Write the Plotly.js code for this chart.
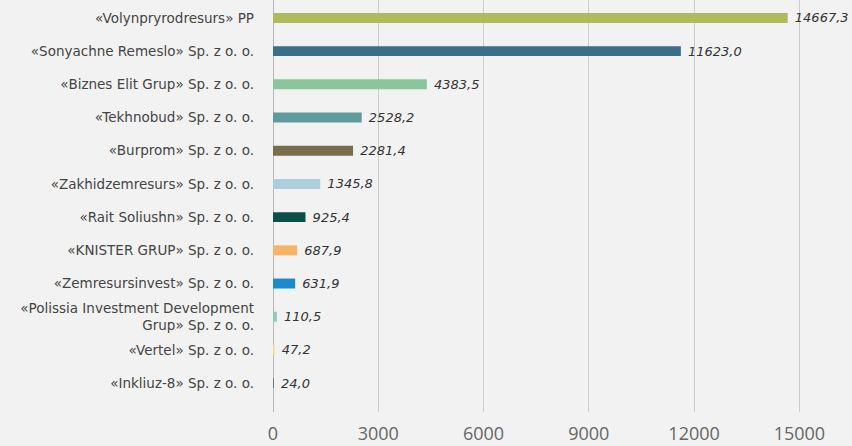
<!DOCTYPE html>
<html><head><meta charset="utf-8">
<script src="https://cdn.plot.ly/plotly-3.0.1.min.js"></script>
<style>html,body{margin:0;padding:0;background:#f2f2f2;}#chart{width:852px;height:446px;}</style>
</head><body><div id="chart"></div>
<script>
const categories = [
  "«Volynpryrodresurs» PP",
  "«Sonyachne Remeslo» Sp. z o. o.",
  "«Biznes Elit Grup» Sp. z o. o.",
  "«Tekhnobud» Sp. z o. o.",
  "«Burprom» Sp. z o. o.",
  "«Zakhidzemresurs» Sp. z o. o.",
  "«Rait Soliushn» Sp. z o. o.",
  "«KNISTER GRUP» Sp. z o. o.",
  "«Zemresursinvest» Sp. z o. o.",
  "«Polissia Investment Development<br>Grup» Sp. z o. o.",
  "«Vertel» Sp. z o. o.",
  "«Inkliuz-8» Sp. z o. o."
];
const values = [14667.3, 11623.0, 4383.5, 2528.2, 2281.4, 1345.8, 925.4, 687.9, 631.9, 110.5, 47.2, 24.0];
const barColors = ["#afba5c","#3b6e8b","#8bc59b","#5f9b9d","#7a6d4c","#abcfdc","#0c4f4a","#f9b369","#1b8bc9","#8fc6c1","#f2dc8c","#666666"];
const xTicks = [0, 3000, 6000, 9000, 12000, 15000];

const labels = values.map(v => "\u00a0" + v.toFixed(1).replace('.', ','));

const trace = {
  type: 'bar',
  orientation: 'h',
  x: values,
  y: categories,
  marker: {color: barColors},
  text: labels,
  textposition: 'outside',
  constraintext: 'none',
  cliponaxis: false,
  textfont: {family: 'DejaVu Sans, sans-serif', size: 13, color: '#333333', style: 'italic'},
  hoverinfo: 'none'
};

const layout = {
  width: 852, height: 446,
  margin: {l: 273, r: 0, t: 0, b: 34},
  paper_bgcolor: '#f2f2f2',
  plot_bgcolor: '#f2f2f2',
  bargap: 0.7,
  showlegend: false,
  xaxis: {
    range: [0, 16500],
    tickvals: xTicks,
    tickformat: 'd',
    showgrid: true,
    gridcolor: '#cccccc',
    gridwidth: 1,
    zeroline: true,
    zerolinecolor: '#b8b8b8',
    zerolinewidth: 1,
    showline: false,
    ticks: '',
    ticklabelstandoff: 9,
    tickfont: {family: 'Open Sans, sans-serif', size: 18, color: '#666666'}
  },
  yaxis: {
    type: 'category',
    range: [11.87, -0.54],
    showgrid: false,
    zeroline: false,
    showline: false,
    ticks: '',
    ticklabelstandoff: 18,
    tickfont: {family: 'DejaVu Sans, sans-serif', size: 13.5, color: '#444444'}
  }
};

Plotly.newPlot('chart', [trace], layout, {displayModeBar: false, staticPlot: true});
</script></body></html>
